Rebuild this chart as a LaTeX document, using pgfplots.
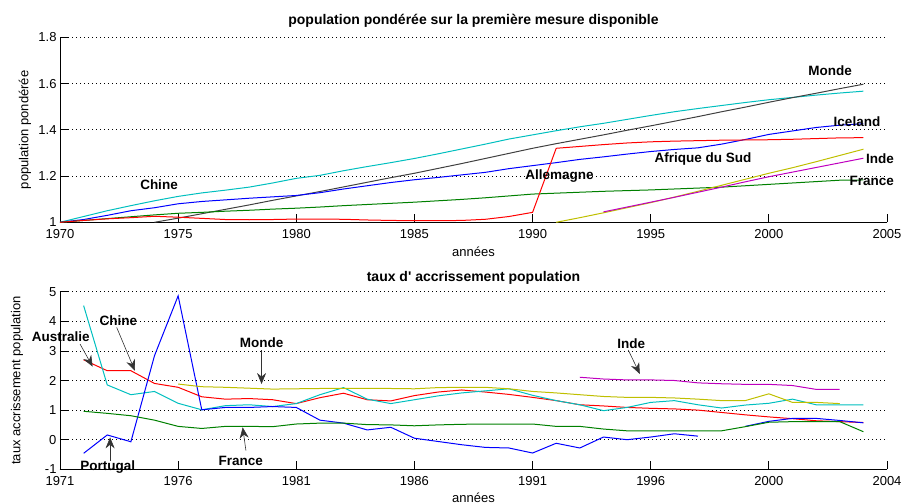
\documentclass[border=0pt]{standalone}
\usepackage{fontspec}
\setmainfont{Liberation Sans}
\newfontfamily\nolig{Liberation Sans}
\usepackage{pgfplots}
\pgfplotsset{compat=1.18}
\usetikzlibrary{arrows.meta}

\definecolor{mred}{RGB}{255,0,0}
\definecolor{mblue}{RGB}{0,0,255}
\definecolor{mgreen}{RGB}{0,128,0}
\definecolor{mcyan}{RGB}{0,191,191}
\definecolor{mmag}{RGB}{191,0,191}
\definecolor{myel}{RGB}{191,191,0}
\definecolor{mgray}{RGB}{64,64,64}

\newcommand{\tickfont}{\fontsize{13bp}{15bp}\selectfont}
\newcommand{\lblfont}{\fontsize{13.5bp}{16bp}\selectfont\bfseries}
\newcommand{\titfont}{\fontsize{14bp}{16bp}\selectfont\bfseries}

\pgfplotsset{
  mat/.style={
    scale only axis, width=827bp,
    axis x line*=bottom, axis y line*=left,
    axis line style={line width=0.8bp, black},
    tick align=inside, major tick length=8bp,
    tick style={line width=0.8bp, black},
    ymajorgrids, grid style={black, line width=0.8bp, dash pattern=on 0.8bp off 3.2bp},
    ticklabel style={font=\tickfont},
    xticklabel style={yshift=-3.5bp},
    /pgf/number format/assume math mode=true,
    xlabel style={font=\tickfont, anchor=center},
    ylabel style={font=\tickfont, anchor=center},
    title style={font=\titfont, anchor=center},
    clip=false,
    every axis plot/.append style={line width=1bp, no markers},
  },
}
\tikzset{
  lbl/.style={font=\lblfont, inner sep=0pt},
  arr/.style={-{Stealth[length=11bp,width=9bp]}, line width=0.6bp, black!80},
}

\begin{document}
\begin{tikzpicture}
\path[use as bounding box] (0,0) rectangle (902bp,504bp);

% --- haut : population pondérée
\begin{axis}[mat,
  at={(60bp,281.7bp)}, anchor=south west, height=185bp,
  xmin=1970, xmax=2005, ymin=1, ymax=1.8,
  xtick={1970,1975,1980,1985,1990,1995,2000,2005},
  xticklabels={1970,1975,1980,1985,1990,1995,2000,2005},
  ytick={1,1.2,1.4,1.6,1.8},
  title={population pondérée sur la première mesure disponible},
  title style={at={(0.5,1.056)}},
  xlabel={années}, xlabel style={at={(0.5,-0.157)}},
  ylabel={population pondérée}, ylabel style={at={(-0.0423,0.5)}},
]
\addplot[mcyan] coordinates {(1970,1.000)(1971,1.025)(1972,1.050)(1973,1.072)(1974,1.093)(1975,1.112)(1976,1.127)(1977,1.139)(1978,1.152)(1979,1.170)(1980,1.190)(1981,1.203)(1982,1.223)(1983,1.241)(1984,1.258)(1985,1.276)(1986,1.296)(1987,1.317)(1988,1.338)(1989,1.360)(1990,1.378)(1991,1.396)(1992,1.413)(1993,1.428)(1994,1.445)(1995,1.462)(1996,1.478)(1997,1.492)(1998,1.505)(1999,1.518)(2000,1.530)(2001,1.540)(2002,1.550)(2003,1.559)(2004,1.567)};
\addplot[mgray] coordinates {(1974,1.000)(1975,1.018)(1976,1.037)(1977,1.056)(1978,1.075)(1979,1.095)(1980,1.114)(1981,1.133)(1982,1.153)(1983,1.173)(1984,1.193)(1985,1.212)(1986,1.233)(1987,1.254)(1988,1.276)(1989,1.298)(1990,1.320)(1991,1.340)(1992,1.359)(1993,1.378)(1994,1.398)(1995,1.417)(1996,1.437)(1997,1.457)(1998,1.478)(1999,1.498)(2000,1.519)(2001,1.539)(2002,1.558)(2003,1.578)(2004,1.597)};
\addplot[mblue] coordinates {(1970,1.000)(1971,1.012)(1972,1.030)(1973,1.050)(1974,1.063)(1975,1.080)(1976,1.090)(1977,1.097)(1978,1.104)(1979,1.110)(1980,1.116)(1981,1.128)(1982,1.144)(1983,1.158)(1984,1.172)(1985,1.184)(1986,1.194)(1987,1.205)(1988,1.216)(1989,1.232)(1990,1.245)(1991,1.258)(1992,1.272)(1993,1.283)(1994,1.295)(1995,1.306)(1996,1.315)(1997,1.322)(1998,1.338)(1999,1.358)(2000,1.380)(2001,1.395)(2002,1.410)(2003,1.420)(2004,1.426)};
\addplot[mgreen] coordinates {(1970,1.000)(1971,1.008)(1972,1.016)(1973,1.024)(1974,1.032)(1975,1.039)(1976,1.043)(1977,1.048)(1978,1.052)(1979,1.057)(1980,1.061)(1981,1.066)(1982,1.072)(1983,1.077)(1984,1.082)(1985,1.087)(1986,1.093)(1987,1.099)(1988,1.106)(1989,1.114)(1990,1.122)(1991,1.126)(1992,1.130)(1993,1.134)(1994,1.137)(1995,1.140)(1996,1.144)(1997,1.148)(1998,1.152)(1999,1.158)(2000,1.164)(2001,1.170)(2002,1.176)(2003,1.182)(2004,1.183)};
\addplot[mred] coordinates {(1970,1.000)(1971,1.008)(1972,1.015)(1973,1.020)(1974,1.026)(1975,1.022)(1976,1.017)(1977,1.012)(1978,1.011)(1979,1.012)(1980,1.014)(1981,1.014)(1982,1.013)(1983,1.010)(1984,1.008)(1985,1.007)(1986,1.007)(1987,1.008)(1988,1.013)(1989,1.025)(1990,1.043)(1991,1.320)(1992,1.328)(1993,1.336)(1994,1.343)(1995,1.348)(1996,1.351)(1997,1.353)(1998,1.355)(1999,1.356)(2000,1.357)(2001,1.359)(2002,1.362)(2003,1.365)(2004,1.366)};
\addplot[myel] coordinates {(1991,1.000)(1992,1.020)(1993,1.041)(1994,1.063)(1995,1.085)(1996,1.109)(1997,1.134)(1998,1.160)(1999,1.186)(2000,1.212)(2001,1.236)(2002,1.262)(2003,1.289)(2004,1.316)};
\addplot[mmag] coordinates {(1993,1.045)(1994,1.066)(1995,1.087)(1996,1.108)(1997,1.130)(1998,1.152)(1999,1.175)(2000,1.197)(2001,1.217)(2002,1.237)(2003,1.257)(2004,1.277)};

\node[lbl] at (axis cs:1974.19,1.161) {Chine};
\node[lbl] at (axis cs:2002.59,1.655) {Monde};
\node[lbl] at (axis cs:2003.73,1.434) {Iceland};
\node[lbl] at (axis cs:1997.21,1.274) {Afrique du Sud};
\node[lbl] at (axis cs:1991.14,1.200) {Allemagne};
\node[lbl] at (axis cs:2004.70,1.274) {Inde};
\node[lbl] at (axis cs:2004.35,1.179) {France};
\end{axis}

% --- bas : taux d'accroissement
\begin{axis}[mat,
  at={(60bp,34.7bp)}, anchor=south west, height=177.6bp,
  xmin=1971, xmax=2006, ymin=-1, ymax=5,
  xtick={1971,1976,1981,1986,1991,1996,2001,2006},
  xticklabels={1971,1976,1981,1986,1991,1996,2000,2004},
  ytick={-1,0,1,2,3,4,5},
  title={taux {\nolig d'} accrissement population},
  title style={at={(0.5,1.043)}},
  xlabel={années}, xlabel style={at={(0.5,-0.163)}},
  ylabel={taux accrissement population}, ylabel style={at={(-0.052,0.5)}},
]
\addplot[mred] coordinates {(1972,2.70)(1973,2.33)(1974,2.33)(1975,1.90)(1976,1.77)(1977,1.45)(1978,1.37)(1979,1.39)(1980,1.35)(1981,1.22)(1982,1.42)(1983,1.57)(1984,1.35)(1985,1.31)(1986,1.49)(1987,1.61)(1988,1.68)(1989,1.61)(1990,1.53)(1991,1.43)(1992,1.32)(1993,1.18)(1994,1.14)(1995,1.09)(1996,1.06)(1997,1.04)(1998,1.00)(1999,0.92)(2000,0.84)(2001,0.77)(2002,0.71)(2003,0.64)(2004,0.61)(2005,0.58)};
\addplot[mcyan] coordinates {(1972,4.53)(1973,1.85)(1974,1.52)(1975,1.63)(1976,1.23)(1977,1.01)(1978,1.15)(1979,1.18)(1980,1.12)(1981,1.22)(1982,1.52)(1983,1.76)(1984,1.37)(1985,1.22)(1986,1.35)(1987,1.48)(1988,1.58)(1989,1.65)(1990,1.72)(1991,1.50)(1992,1.32)(1993,1.18)(1994,0.98)(1995,1.09)(1996,1.26)(1997,1.32)(1998,1.18)(1999,1.07)(2000,1.17)(2001,1.23)(2002,1.37)(2003,1.18)(2004,1.18)(2005,1.18)};
\addplot[mblue] coordinates {(1972,-0.46)(1973,0.16)(1974,-0.07)(1975,2.84)(1976,4.86)(1977,1.01)(1978,1.09)(1979,1.09)(1980,1.12)(1981,1.09)(1982,0.66)(1983,0.56)(1984,0.33)(1985,0.42)(1986,0.05)(1987,-0.06)(1988,-0.17)(1989,-0.26)(1990,-0.28)(1991,-0.45)(1992,-0.12)(1993,-0.28)(1994,0.09)(1995,0.00)(1996,0.09)(1997,0.20)(1998,0.12)};
\addplot[mblue] coordinates {(2000,0.45)(2001,0.62)(2002,0.72)(2003,0.72)(2004,0.65)(2005,0.57)};
\addplot[mgreen] coordinates {(1972,0.96)(1973,0.89)(1974,0.81)(1975,0.66)(1976,0.45)(1977,0.38)(1978,0.45)(1979,0.45)(1980,0.44)(1981,0.53)(1982,0.56)(1983,0.56)(1984,0.51)(1985,0.50)(1986,0.47)(1987,0.50)(1988,0.52)(1989,0.53)(1990,0.53)(1991,0.53)(1992,0.45)(1993,0.45)(1994,0.36)(1995,0.30)(1996,0.30)(1997,0.30)(1998,0.30)(1999,0.30)(2000,0.44)(2001,0.59)(2002,0.61)(2003,0.61)(2004,0.61)(2005,0.27)};
\addplot[myel] coordinates {(1976,1.88)(1977,1.79)(1978,1.77)(1979,1.74)(1980,1.71)(1981,1.72)(1982,1.73)(1983,1.73)(1984,1.73)(1985,1.73)(1986,1.72)(1987,1.76)(1988,1.77)(1989,1.77)(1990,1.72)(1991,1.63)(1992,1.58)(1993,1.52)(1994,1.46)(1995,1.43)(1996,1.43)(1997,1.41)(1998,1.37)(1999,1.32)(2000,1.32)(2001,1.55)(2002,1.26)(2003,1.26)(2004,1.22)};
\addplot[mmag] coordinates {(1993,2.11)(1994,2.05)(1995,2.02)(1996,2.02)(1997,2.00)(1998,1.92)(1999,1.89)(2000,1.87)(2001,1.87)(2002,1.83)(2003,1.70)(2004,1.70)};

\node[lbl] at (axis cs:1971.03,3.48) {Australie};
\draw[arr] (axis cs:1971.85,3.23) -- (axis cs:1972.38,2.47);
\node[lbl] at (axis cs:1973.47,4.02) {Chine};
\draw[arr] (axis cs:1973.40,3.79) -- (axis cs:1974.17,2.33);
\node[lbl] at (axis cs:1979.53,3.29) {Monde};
\draw[arr] (axis cs:1979.53,3.03) -- (axis cs:1979.53,1.88);
\node[lbl] at (axis cs:1973.02,-0.91) {Portugal};
\draw[arr] (axis cs:1973.12,-0.71) -- (axis cs:1973.12,0.08);
\node[lbl] at (axis cs:1978.65,-0.73) {France};
\draw[arr] (axis cs:1978.87,-0.37) -- (axis cs:1978.73,0.42);
\node[lbl] at (axis cs:1995.18,3.25) {Inde};
\draw[arr] (axis cs:1995.05,3.03) -- (axis cs:1995.54,2.22);
\end{axis}
\end{tikzpicture}
\end{document}
